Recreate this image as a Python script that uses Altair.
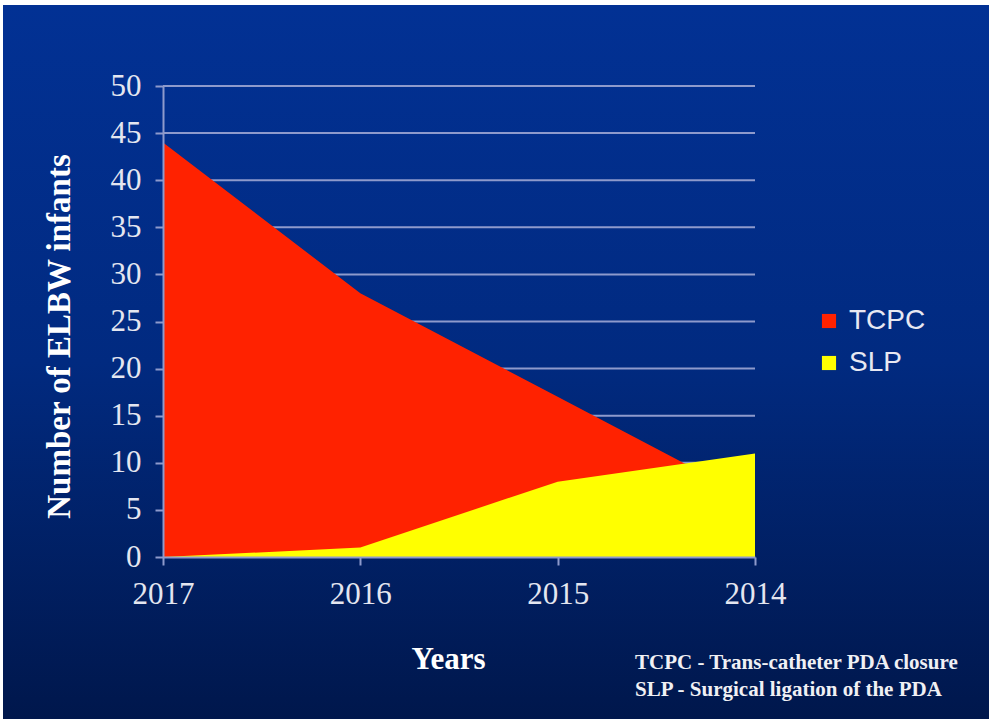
import altair as alt
import pandas as pd

years = ["2017", "2016", "2015", "2014"]
tcpc = [44, 28, 17, 6]
slp = [0, 1, 8, 11]
series = ["TCPC", "SLP"]
colors = ["#FF2200", "#FFFF00"]
y_ticks = list(range(0, 51, 5))
footnote = ["TCPC - Trans-catheter PDA closure", "SLP - Surgical ligation of the PDA"]

df_tcpc = pd.DataFrame({"year": years, "value": tcpc, "series": "TCPC"})
df_slp = pd.DataFrame({"year": years, "value": slp, "series": "SLP"})
df_grid = pd.DataFrame({"value": y_ticks})

W, H = 592, 471
PL, PT = 163, 86
AX = "#8E9ACC"

bg_grad = alt.Gradient(
    gradient="linear",
    stops=[
        alt.GradientStop(color="#023194", offset=0),
        alt.GradientStop(color="#012a80", offset=0.5),
        alt.GradientStop(color="#00174c", offset=1),
    ],
    x1=0, x2=0, y1=0, y2=1,
)

bg = alt.Chart(alt.Data(values=[{"a": 1}])).mark_rect(fill=bg_grad).encode(
    x=alt.value(3 - PL), x2=alt.value(989 - PL),
    y=alt.value(5 - PT), y2=alt.value(719 - PT),
)

x_enc = alt.X(
    "year:O",
    sort=years,
    scale=alt.Scale(type="point", padding=0),
    axis=alt.Axis(
        title="Years", labelAngle=0, labelFont="Liberation Serif", labelFontSize=31,
        labelColor="#E4E6F0", labelPadding=14, tickColor=AX, tickSize=8, tickWidth=2,
        domainColor=AX, domainWidth=2, grid=False, zindex=1,
        titleFont="Liberation Serif", titleFontSize=31, titleFontWeight="bold",
        titleColor="white", titlePadding=35, titleX=285,
    ),
)
y_scale = alt.Scale(domain=[0, 50])
y_enc = alt.Y(
    "value:Q",
    scale=y_scale,
    axis=alt.Axis(
        title="Number of  ELBW infants", values=y_ticks,
        labelFont="Liberation Serif", labelFontSize=31, labelColor="#E4E6F0",
        labelPadding=14, tickColor=AX, tickSize=8, tickWidth=2,
        domainColor=AX, domainWidth=2, grid=False, zindex=1,
        titleFont="Liberation Serif", titleFontSize=33, titleFontWeight="bold",
        titleColor="white", titlePadding=34, titleY=250,
    ),
)
color_enc = alt.Color(
    "series:N",
    scale=alt.Scale(domain=series, range=colors),
    legend=alt.Legend(
        title=None, orient="none", legendX=652, legendY=221, symbolType="square",
        symbolSize=200, symbolStrokeWidth=0, labelFont="Liberation Sans", labelFontSize=28,
        labelColor="#E8E8F2", rowPadding=14, labelOffset=6,
    ),
)

grid = alt.Chart(df_grid).mark_rule(color=AX, strokeWidth=2).encode(
    y=alt.Y("value:Q", scale=y_scale), x=alt.value(0), x2=alt.value(W)
)

a1 = alt.Chart(df_tcpc).mark_area(opacity=1).encode(x=x_enc, y=y_enc, color=color_enc)
a2 = alt.Chart(df_slp).mark_area(opacity=1).encode(x=x_enc, y=y_enc, color=color_enc)

foot = alt.Chart(alt.Data(values=[{"t": footnote}])).mark_text(
    font="Liberation Serif", fontSize=21, fontWeight="bold", color="#F0F0F4",
    align="left", baseline="middle", lineHeight=27,
).encode(text="t:N", x=alt.value(635 - PL), y=alt.value(663 - PT))

chart = alt.layer(bg, grid, a1, a2, foot).properties(
    width=W, height=H,
    autosize=alt.AutoSizeParams(type="none"),
    padding={"left": PL, "top": PT, "right": 993 - PL - W, "bottom": 719 - PT - H},
    background="white",
).configure_view(stroke=None)

chart.save("out.html", embed_options={"renderer": "svg", "actions": False})
